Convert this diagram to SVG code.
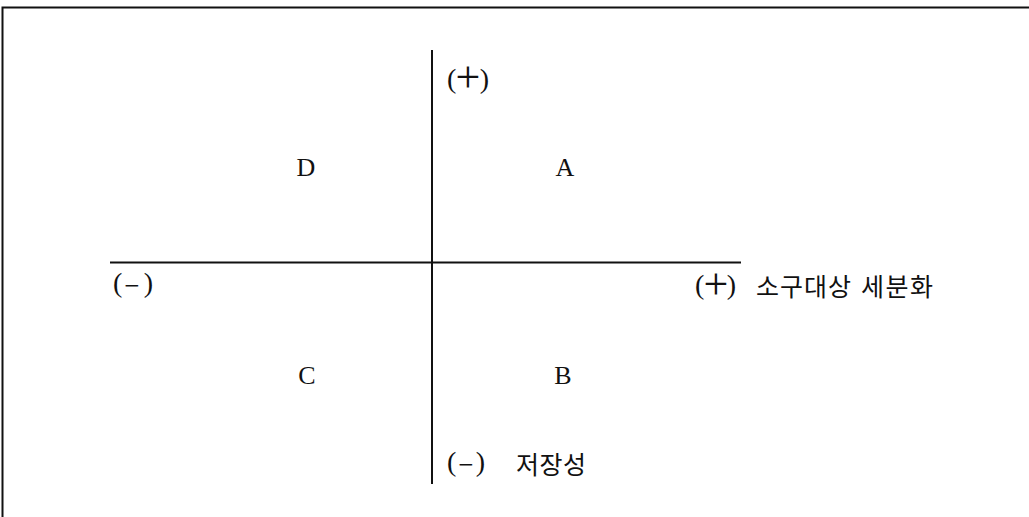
<svg xmlns="http://www.w3.org/2000/svg" width="1029" height="517" viewBox="0 0 1029 517">
<style>
.t{font-family:"Liberation Serif","Noto Sans CJK KR",serif;font-size:26px;fill:#111}
.p{font-family:"Liberation Serif",serif;font-size:28px;fill:#111}
.pl{font-family:"Liberation Serif",serif;font-size:44px;fill:#111;text-anchor:middle}
.mn{font-family:"DejaVu Sans",sans-serif;font-size:20px;fill:#111;text-anchor:middle}
.k{font-family:"Noto Sans CJK KR",sans-serif;font-size:25px;fill:#111}
.ax{stroke:#111;stroke-width:2;fill:none}
</style>
<rect width="1029" height="517" fill="#fff"/>
<g id="frame"><path d="M2.5,517 V7.5 H1029" stroke="#111" stroke-width="2" fill="none"/></g>
<g id="connectors">
<line class="ax" x1="432" y1="50" x2="432" y2="484"/>
<line class="ax" x1="110" y1="262.5" x2="741" y2="262.5"/>
</g>
<g id="yplus"><text class="p" x="447" y="88">(</text><text class="pl" x="468" y="92">+</text><text class="p" x="489" y="88" text-anchor="end">)</text></g>
<g id="D"><text class="t" x="306" y="176" text-anchor="middle">D</text></g>
<g id="A"><text class="t" x="565" y="176" text-anchor="middle">A</text></g>
<g id="xminus"><text class="p" x="113" y="292">(</text><text class="mn" x="132" y="292">−</text><text class="p" x="153" y="292" text-anchor="end">)</text></g>
<g id="xplus"><text class="p" x="695" y="294">(</text><text class="pl" x="716" y="299">+</text><text class="p" x="736" y="294" text-anchor="end">)</text><text class="k" x="756" y="296" textLength="95" lengthAdjust="spacing">소구대상</text><text class="k" x="861" y="296" textLength="72" lengthAdjust="spacing">세분화</text></g>
<g id="C"><text class="t" x="307" y="384" text-anchor="middle">C</text></g>
<g id="B"><text class="t" x="563" y="384" text-anchor="middle">B</text></g>
<g id="yminus"><text class="p" x="447" y="471">(</text><text class="mn" x="466" y="471">−</text><text class="p" x="485" y="471" text-anchor="end">)</text><text class="k" x="516" y="474" textLength="70" lengthAdjust="spacing">저장성</text></g>
</svg>
